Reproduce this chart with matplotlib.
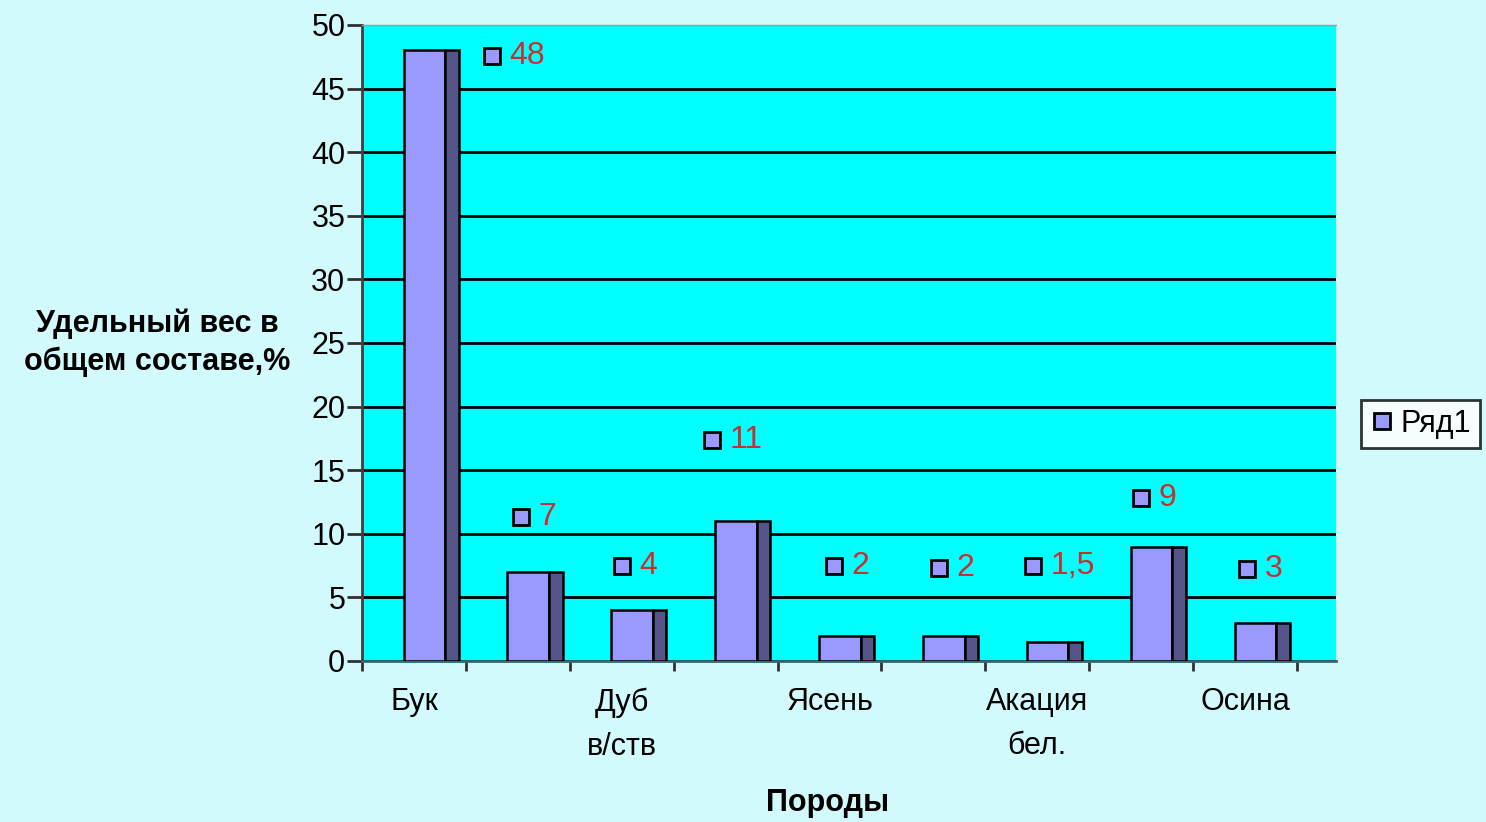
import numpy as np
import matplotlib.pyplot as plt
from matplotlib.lines import Line2D

plt.rcParams['font.family'] = ['Liberation Sans', 'DejaVu Sans']

# data
categories = ['Бук', '', 'Дуб\nв/ств', '', 'Ясень', '', 'Акация\nбел.', '', 'Осина']
values = [48, 7, 4, 11, 2, 2, 1.5, 9, 3]
value_labels = ['48', '7', '4', '11', '2', '2', '1,5', '9', '3']

# where excel dropped the data labels (y in data units, x offset in category units)
label_y = [47.6, 11.3, 7.5, 17.4, 7.5, 7.3, 7.5, 12.8, 7.2]
label_dx = [0.75, 0.03, 0.0, -0.13, 0.04, 0.05, -0.04, 0.0, 0.02]

bg = '#d2fafc'
face = '#9999ff'
side = '#55558a'
red = '#c83030'

fig = plt.figure(figsize=(14.86, 8.22), dpi=100, facecolor=bg)
ax = fig.add_axes([362 / 1486, 1 - 661 / 822, (1336 - 362) / 1486, (661 - 25) / 822])
ax.set_facecolor('#00ffff')

n = len(values)
centers = np.arange(n) + 0.5

ax.set_xlim(0, 9.375)
ax.set_ylim(0, 50)
ax.set_yticks(np.arange(0, 51, 5))
ax.yaxis.grid(True, color='black', linewidth=2)
ax.yaxis.get_gridlines()[-1].set_visible(False)
ax.set_axisbelow(True)

# front and side faces of the pseudo-3D columns
ax.bar(centers - 0.1, values, width=0.4, align='edge', color=face, edgecolor='black', linewidth=1.8, zorder=3)
ax.bar(centers + 0.3, values, width=0.13, align='edge', color=side, edgecolor='black', linewidth=1.8, zorder=3)

for c, ly, dx, txt in zip(centers, label_y, label_dx, value_labels):
    ax.plot(c + dx, ly, marker='s', markersize=12, markerfacecolor=face, markeredgecolor='black',
            markeredgewidth=2, zorder=4, clip_on=False)
    ax.text(c + dx + 0.17, ly, txt, color=red, fontsize=23, va='center', ha='left', zorder=4)

ax.spines['right'].set_visible(False)
ax.spines['top'].set_color('#7fa8a8')
ax.spines['top'].set_linewidth(1)
ax.spines['left'].set_color('#404040')
ax.spines['left'].set_linewidth(2)
ax.spines['bottom'].set_color('#2f6b6b')
ax.spines['bottom'].set_linewidth(2)

ax.set_xticks(np.arange(0, n + 1))
ax.set_xticklabels([])
ax.tick_params(axis='x', which='major', direction='out', length=7, width=2, color='#303030')
ax.set_xticks(centers, minor=True)
ax.set_xticklabels(categories, minor=True, fontsize=22, linespacing=1.6)
ax.tick_params(axis='x', which='minor', length=0, pad=19)
ax.tick_params(axis='y', direction='out', length=11, width=2, color='#303030', labelsize=22, pad=1)

fig.text(0.106, 0.583, 'Удельный вес в\nобщем составе,%', fontsize=22, fontweight='bold',
         ha='center', va='center', linespacing=1.35)
fig.text(0.557, 0.023, 'Породы', fontsize=22, fontweight='bold', ha='center', va='center')

handle = Line2D([], [], marker='s', linestyle='none', markersize=12, markerfacecolor=face,
                markeredgecolor='black', markeredgewidth=2)
leg = fig.legend([handle], ['Ряд1'], loc='center', bbox_to_anchor=(0.956, 0.484), fontsize=22,
                 frameon=True, fancybox=False, edgecolor='black', handletextpad=0.2,
                 handlelength=0.8, borderpad=0.3)
leg.get_frame().set_linewidth(2)

fig.savefig('out.png', dpi=100, facecolor=bg)
